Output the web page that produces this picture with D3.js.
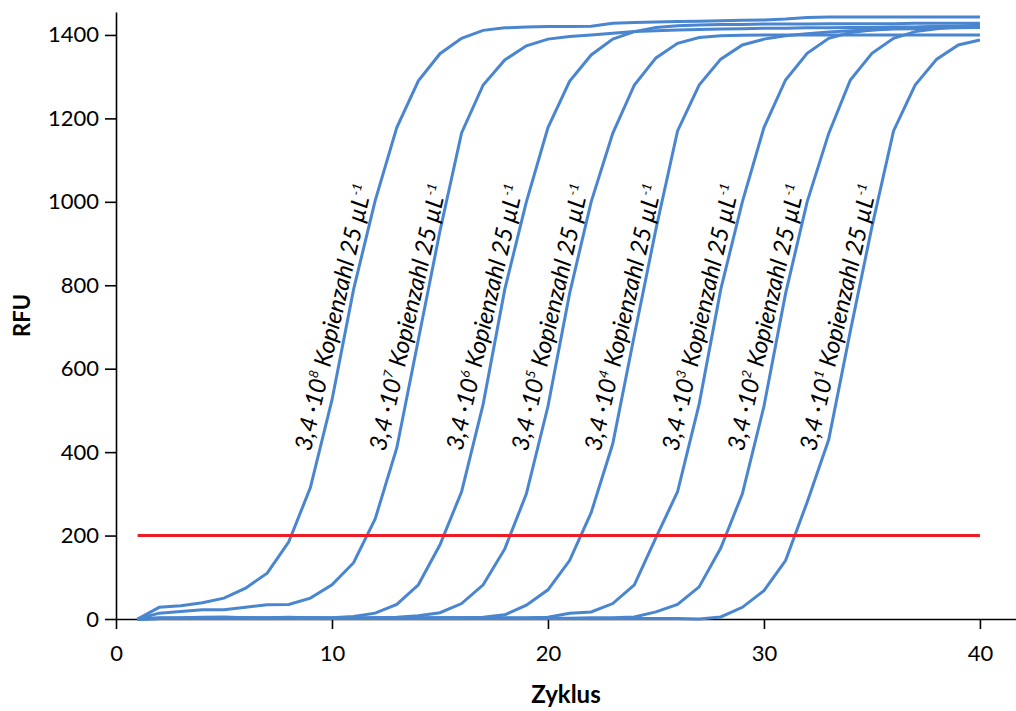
<!DOCTYPE html>
<html>
<head>
<meta charset="utf-8">
<script src="https://cdn.jsdelivr.net/npm/d3@7"></script>
<style>
  body { margin: 0; background: #fff; }
  svg { display: block; font-family: Lato, "Liberation Sans", sans-serif; }
</style>
</head>
<body>
<svg id="chart" width="1016" height="711"></svg>
<script>
// qPCR amplification curves, dilution series 3,4·10^8 ... 3,4·10^1
var cycles = [1,2,3,4,5,6,7,8,9,10,11,12,13,14,15,16,17,18,19,20,
              21,22,23,24,25,26,27,28,29,30,31,32,33,34,35,36,37,38,39,40];

var exponents = ['8','7','6','5','4','3','2','1'];

var rfu1e8 = [0,28,32,39,50,74,110,185,315,525,790,1003,1178,1290,1355,1392,1411,1417,1419,1420,
              1420,1421,1428,1430,1431,1432,1433,1434,1435,1436,1438,1442,1443,1443,1443,1443,1443,1443,1443,1443];
var rfu1e7 = [0,14,18,22,22,28,34,35,50,82,135,240,410,670,930,1165,1280,1340,1374,1390,
              1396,1400,1404,1408,1410,1412,1413,1414,1415,1416,1416,1417,1417,1418,1418,1419,1419,1420,1420,1420];
var rfu1e6 = [0,3,3,4,5,3,3,4,3,3,6,14,35,82,178,305,515,790,1000,1178,
              1289,1352,1390,1408,1418,1422,1424,1425,1425,1426,1426,1426,1427,1427,1427,1427,1428,1428,1428,1428];
var rfu1e5 = [0,2,2,3,3,2,2,3,3,2,2,3,4,8,15,37,82,168,300,510,
              780,1000,1164,1280,1345,1380,1394,1398,1399,1400,1400,1400,1400,1400,1400,1400,1400,1400,1400,1400];
var rfu1e4 = [0,1,2,2,2,3,2,2,2,2,2,3,3,3,3,3,4,10,33,70,
              140,255,420,680,935,1170,1280,1342,1376,1390,1398,1403,1407,1410,1412,1414,1415,1416,1417,1418];
var rfu1e3 = [0,1,1,2,2,2,2,2,2,2,2,2,2,2,3,3,3,3,3,4,
              14,17,37,82,195,305,515,790,1000,1178,1292,1356,1392,1406,1412,1416,1418,1420,1421,1422];
var rfu1e2 = [0,1,1,1,2,2,2,2,2,2,2,2,2,2,2,2,2,2,2,2,
              2,3,3,5,17,35,77,170,300,510,780,1000,1164,1292,1356,1392,1408,1415,1420,1424];
var rfu1e1 = [0,1,1,1,1,1,1,1,1,1,1,1,1,1,1,1,1,1,1,1,
              1,1,1,1,1,1,0,5,28,68,140,280,430,690,940,1170,1280,1342,1376,1388];

var series = [rfu1e8, rfu1e7, rfu1e6, rfu1e5, rfu1e4, rfu1e3, rfu1e2, rfu1e1];

var threshold = 200;
var xTicks = [0, 10, 20, 30, 40];
var yTicks = [0, 200, 400, 600, 800, 1000, 1200, 1400];

var svg = d3.select('#chart');

var x = d3.scaleLinear().domain([0, 41.67]).range([116, 1016]);
var y = d3.scaleLinear().domain([0, 1455]).range([619, 12]);

// axes
var gx = svg.append('g')
  .attr('transform', 'translate(0,' + y(0) + ')')
  .call(d3.axisBottom(x).tickValues(xTicks).tickSizeInner(10).tickSizeOuter(0).tickPadding(16));
var gy = svg.append('g')
  .attr('transform', 'translate(' + x(0) + ',0)')
  .call(d3.axisLeft(y).tickValues(yTicks).tickFormat(d3.format('d'))
    .tickSizeInner(11).tickSizeOuter(0).tickPadding(6));

[gx, gy].forEach(function(g) {
  g.selectAll('path, line').attr('stroke', '#000').attr('stroke-width', 1.6);
  g.selectAll('text').attr('font-size', 22).attr('fill', '#000')
    .attr('font-family', 'Lato, sans-serif');
});

svg.append('text')
  .attr('x', (x.range()[0] + x.range()[1]) / 2)
  .attr('y', 703)
  .attr('text-anchor', 'middle')
  .attr('font-weight', 'bold')
  .attr('font-size', 24)
  .text('Zyklus');

svg.append('text')
  .attr('transform', 'translate(30,' + (y.range()[0] + y.range()[1]) / 2 + ') rotate(-90)')
  .attr('text-anchor', 'middle')
  .attr('font-weight', 'bold')
  .attr('font-size', 22)
  .text('RFU');

// curves
var line = d3.line()
  .x(function(d) { return x(d[0]); })
  .y(function(d) { return y(d[1]); });

svg.append('g')
  .selectAll('path')
  .data(series)
  .enter()
  .append('path')
    .attr('d', function(vals) { return line(vals.map(function(v, i) { return [cycles[i], v]; })); })
    .attr('fill', 'none')
    .attr('stroke', '#4a86d0')
    .attr('stroke-width', 3);

// threshold
svg.append('line')
  .attr('x1', x(cycles[0]))
  .attr('x2', x(cycles[cycles.length - 1]))
  .attr('y1', y(threshold))
  .attr('y2', y(threshold))
  .attr('stroke', '#ee1c25')
  .attr('stroke-width', 3);

// labels next to each curve, at the height where curve passes labelLevel
var labelLevel = 723;
function crossCycle(vals, level) {
  for (var i = 1; i < vals.length; i++) {
    if (vals[i] >= level) {
      var t = (level - vals[i - 1]) / (vals[i] - vals[i - 1]);
      return cycles[i - 1] + t * (cycles[i] - cycles[i - 1]);
    }
  }
  return cycles[cycles.length - 1];
}

var labels = svg.append('g')
  .selectAll('text')
  .data(series)
  .enter()
  .append('text')
    .attr('transform', function(vals) {
      return 'translate(' + (x(crossCycle(vals, labelLevel)) - 15) + ',' + y(labelLevel) + ') rotate(-77)';
    })
    .attr('text-anchor', 'middle')
    .attr('dy', '0.35em')
    .attr('font-style', 'italic')
    .attr('font-size', 24)
    .attr('fill', '#000');

labels.append('tspan').text('3,4 \u00b710');
labels.append('tspan')
  .attr('font-size', 13)
  .attr('dy', -10)
  .text(function(d, i) { return exponents[i]; });
labels.append('tspan')
  .attr('dy', 10)
  .text(' Kopienzahl 25 \u00b5L');
labels.append('tspan')
  .attr('font-size', 13)
  .attr('dy', -10)
  .text('-1');
</script>
</body>
</html>
